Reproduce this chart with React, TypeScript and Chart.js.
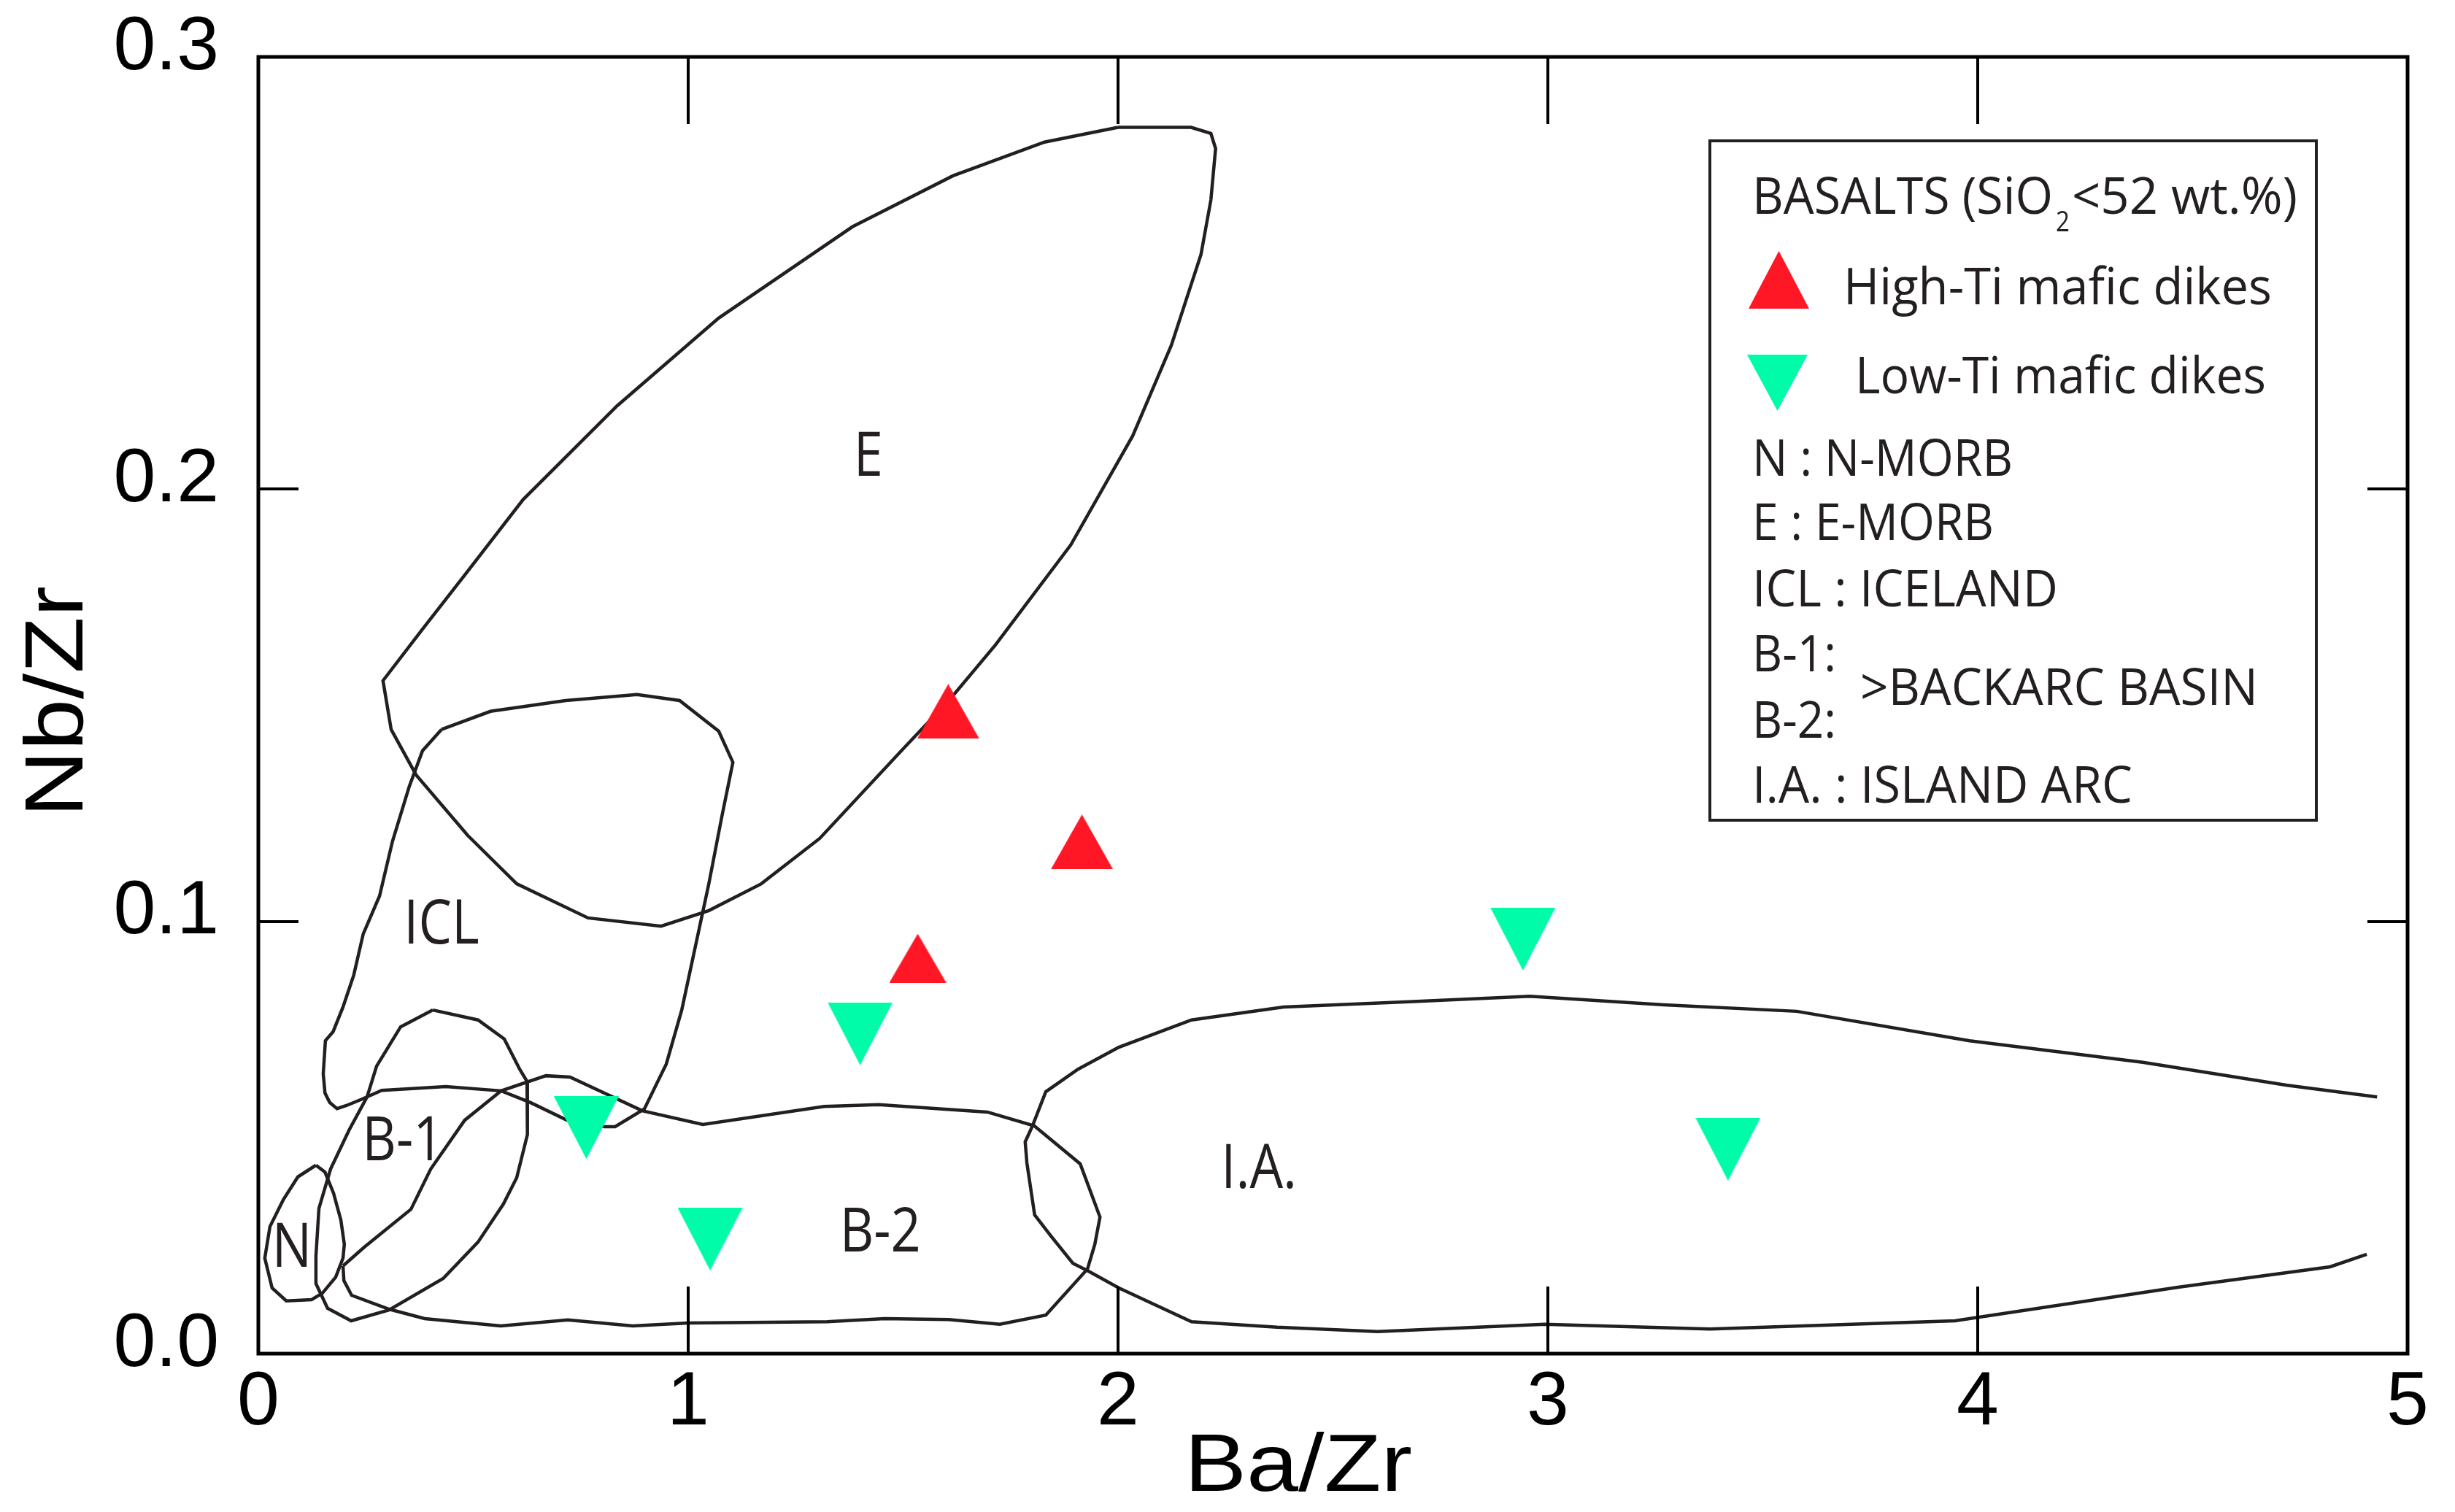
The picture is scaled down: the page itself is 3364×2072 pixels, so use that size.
import React, { useEffect, useRef } from 'react';
import { Chart, registerables } from 'chart.js';

Chart.register(...registerables);

// ---------- data ----------
const xTickValues = [0, 1, 2, 3, 4, 5];
const yTickValues = [0, 0.1, 0.2, 0.3];
const xAxisTitle = 'Ba/Zr';
const yAxisTitle = 'Nb/Zr';

const highTiX = [1.605, 1.916, 1.534];
const highTiY = [0.1486, 0.1184, 0.0915];
const lowTiX = [2.942, 1.4, 0.763, 1.051, 3.419];
const lowTiY = [0.0959, 0.074, 0.0523, 0.0265, 0.0473];

const fieldE = [[2.0,0.2837],[2.17,0.2837],[2.216,0.2823],[2.227,0.2788],[2.216,0.2669],[2.193,0.2543],[2.124,0.2333],[2.034,0.2123],[1.89,0.1871],[1.715,0.164],[1.609,0.1514],[1.496,0.1395],[1.306,0.1192],[1.17,0.1087],[1.048,0.1025],[0.937,0.0989],[0.767,0.1008],[0.601,0.1087],[0.487,0.1199],[0.367,0.1339],[0.309,0.1444],[0.29,0.1557],[0.381,0.1675],[0.48,0.1801],[0.616,0.1976],[0.835,0.2193],[1.071,0.2396],[1.382,0.2607],[1.616,0.2725],[1.829,0.2803],[2.0,0.2837]];
const fieldICL = [[0.426,0.1444],[0.54,0.1486],[0.715,0.1511],[0.881,0.1525],[0.98,0.1511],[1.071,0.144],[1.104,0.1368],[1.078,0.1241],[1.048,0.1087],[1.012,0.092],[0.985,0.0795],[0.949,0.067],[0.898,0.0566],[0.83,0.0525],[0.805,0.0525],[0.718,0.054],[0.633,0.0581],[0.565,0.0608],[0.436,0.0618],[0.287,0.0609],[0.239,0.0588],[0.205,0.0574],[0.183,0.0567],[0.166,0.0581],[0.155,0.0603],[0.151,0.0647],[0.156,0.0724],[0.174,0.0745],[0.197,0.0802],[0.222,0.0876],[0.244,0.0971],[0.282,0.1059],[0.312,0.1185],[0.351,0.1312],[0.382,0.1395],[0.426,0.1444]];
const fieldB1 = [[0.406,0.0795],[0.511,0.0772],[0.572,0.0728],[0.608,0.0658],[0.625,0.063],[0.626,0.0571],[0.626,0.0507],[0.601,0.0407],[0.57,0.0346],[0.511,0.0258],[0.43,0.0174],[0.304,0.0101],[0.216,0.0076],[0.161,0.0105],[0.134,0.0162],[0.134,0.0226],[0.141,0.0336],[0.168,0.0427],[0.211,0.0517],[0.253,0.0594],[0.275,0.0665],[0.331,0.0756],[0.406,0.0795]];
const fieldN = [[0.134,0.0436],[0.092,0.0409],[0.058,0.0356],[0.027,0.0294],[0.015,0.0221],[0.032,0.0152],[0.065,0.0122],[0.124,0.0125],[0.149,0.014],[0.18,0.0177],[0.197,0.0221],[0.2,0.0253],[0.192,0.0309],[0.175,0.0371],[0.155,0.042],[0.134,0.0436]];
const fieldB2 = [[0.197,0.0203],[0.199,0.0169],[0.217,0.0135],[0.304,0.0103],[0.387,0.0081],[0.564,0.0064],[0.72,0.0078],[0.871,0.0064],[1.0,0.0071],[1.323,0.0074],[1.457,0.0081],[1.606,0.0079],[1.725,0.0068],[1.832,0.0089],[1.929,0.0196],[1.946,0.0253],[1.958,0.0316],[1.912,0.0439],[1.805,0.0527],[1.696,0.0559],[1.443,0.0576],[1.316,0.0572],[1.034,0.053],[0.893,0.0562],[0.725,0.064],[0.669,0.0643],[0.565,0.0608],[0.48,0.054],[0.401,0.0427],[0.355,0.0334],[0.246,0.0246],[0.197,0.0203]];
const fieldIA = [[4.929,0.0594],[4.72,0.0621],[4.384,0.0674],[3.981,0.0724],[3.579,0.0792],[3.27,0.0807],[2.958,0.0827],[2.677,0.0814],[2.385,0.0802],[2.171,0.0772],[2.002,0.0709],[1.907,0.0658],[1.832,0.0606],[1.801,0.0527],[1.784,0.049],[1.788,0.0441],[1.806,0.0321],[1.844,0.0272],[1.895,0.0209],[1.929,0.0192],[2.002,0.0152],[2.171,0.0074],[2.37,0.0061],[2.604,0.0051],[2.992,0.0068],[3.377,0.0057],[3.947,0.0076],[4.469,0.0154],[4.82,0.0201],[4.905,0.023]];

const regionNames = ['E', 'ICL', 'B-1', 'N', 'B-2', 'I.A.'];
const regionX = [1.419, 0.426, 0.336, 0.078, 1.447, 2.328];
const regionY = [0.2082, 0.0999, 0.0498, 0.0252, 0.0287, 0.0434];

const legendTitleA = 'BASALTS (SiO';
const legendTitleSub = '2';
const legendTitleB = '<52 wt.%)';
const seriesNames = ['High-Ti mafic dikes', 'Low-Ti mafic dikes'];
const legendNotes = ['N : N-MORB', 'E : E-MORB', 'ICL : ICELAND', 'B-1:', 'B-2:', '>BACKARC BASIN', 'I.A. : ISLAND ARC'];

// ---------- styling ----------
const RED = '#FF1726';
const GREEN = '#00FCA9';
const INK = '#231F20';
const AXIS_FONT = '"Liberation Sans", Arial, Helvetica, sans-serif';
const TEXT_FONT = '"Open Sans", "Noto Sans", sans-serif';

function triangleCanvas(w: number, h: number, color: string, down: boolean) {
  const c = document.createElement('canvas');
  c.width = w;
  c.height = h;
  const ctx = c.getContext('2d')!;
  ctx.fillStyle = color;
  ctx.beginPath();
  if (down) {
    ctx.moveTo(0, 0); ctx.lineTo(w, 0); ctx.lineTo(w / 2, h);
  } else {
    ctx.moveTo(w / 2, 0); ctx.lineTo(w, h); ctx.lineTo(0, h);
  }
  ctx.closePath();
  ctx.fill();
  return c;
}

function drawFit(ctx: CanvasRenderingContext2D, text: string, x: number, y: number, width: number, font: string) {
  ctx.font = font;
  const m = ctx.measureText(text).width;
  ctx.save();
  ctx.translate(x, y);
  ctx.scale(width / m, 1);
  ctx.textAlign = 'left';
  ctx.textBaseline = 'alphabetic';
  ctx.fillText(text, 0, 0);
  ctx.restore();
}

const decorPlugin = {
  id: 'decor',
  afterDatasetsDraw(chart: any) {
    const ctx: CanvasRenderingContext2D = chart.ctx;
    const xs = chart.scales.x;
    const ys = chart.scales.y;
    ctx.save();
    ctx.fillStyle = INK;
    const fs = 84;
    ctx.font = `${fs}px ${TEXT_FONT}`;
    regionNames.forEach((name, i) => {
      const px = xs.getPixelForValue(regionX[i]);
      const py = ys.getPixelForValue(regionY[i]);
      const w = ctx.measureText(name).width * 0.86;
      ctx.save();
      ctx.translate(px - w / 2, py + fs * 0.714 / 2);
      ctx.scale(0.86, 1);
      ctx.textBaseline = 'alphabetic';
      ctx.fillText(name, 0, 0);
      ctx.restore();
    });
    ctx.restore();
  },
  afterDraw(chart: any) {
    const ctx: CanvasRenderingContext2D = chart.ctx;
    const a = chart.chartArea;
    const xs = chart.scales.x;
    const ys = chart.scales.y;
    ctx.save();
    ctx.strokeStyle = '#000';
    ctx.lineWidth = 5;
    ctx.strokeRect(a.left, a.top, a.right - a.left, a.bottom - a.top);
    ctx.lineWidth = 4;
    ctx.beginPath();
    xTickValues.slice(1, -1).forEach((v) => {
      const px = Math.round(xs.getPixelForValue(v));
      ctx.moveTo(px, a.bottom); ctx.lineTo(px, a.bottom - 92);
      ctx.moveTo(px, a.top); ctx.lineTo(px, a.top + 92);
    });
    yTickValues.slice(1, -1).forEach((v) => {
      const py = Math.round(ys.getPixelForValue(v));
      ctx.moveTo(a.left, py); ctx.lineTo(a.left + 55, py);
      ctx.moveTo(a.right, py); ctx.lineTo(a.right - 55, py);
    });
    ctx.stroke();

    ctx.fillStyle = '#000';
    drawFit(ctx, xAxisTitle, 1623, 2043, 312, `112px ${AXIS_FONT}`);
    ctx.save();
    ctx.translate(113, 1120);
    ctx.rotate(-Math.PI / 2);
    drawFit(ctx, yAxisTitle, 0, 0, 317, `113px ${AXIS_FONT}`);
    ctx.restore();

    const L = 2343, T = 193, W = 831, H = 931;
    ctx.fillStyle = '#fff';
    ctx.fillRect(L, T, W, H);
    ctx.strokeStyle = INK;
    ctx.lineWidth = 4;
    ctx.strokeRect(L, T, W, H);
    ctx.fillStyle = INK;
    const f = `70px ${TEXT_FONT}`;
    drawFit(ctx, legendTitleA, L + 58, T + 100, 412, f);
    drawFit(ctx, legendTitleSub, L + 474, T + 124, 19, `38px ${TEXT_FONT}`);
    drawFit(ctx, legendTitleB, L + 496, T + 100, 309, f);
    ctx.fillStyle = RED;
    ctx.beginPath();
    ctx.moveTo(L + 94.5, T + 151); ctx.lineTo(L + 136, T + 230); ctx.lineTo(L + 53, T + 230);
    ctx.closePath(); ctx.fill();
    ctx.fillStyle = GREEN;
    ctx.beginPath();
    ctx.moveTo(L + 51, T + 293); ctx.lineTo(L + 134, T + 293); ctx.lineTo(L + 92.5, T + 370);
    ctx.closePath(); ctx.fill();
    ctx.fillStyle = INK;
    drawFit(ctx, seriesNames[0], L + 183, T + 224, 587, f);
    drawFit(ctx, seriesNames[1], L + 199, T + 346, 563, f);
    const noteX = [58, 58, 58, 58, 58, 206, 58];
    const noteY = [459, 547, 638, 727, 818, 773, 907];
    const noteW = [357, 331, 419, 115, 115, 545, 521];
    legendNotes.forEach((t, i) => drawFit(ctx, t, L + noteX[i], T + noteY[i], noteW[i], f));
    ctx.restore();
  },
};

function poly(pts: number[][]) {
  return pts.map(([x, y]) => ({ x, y }));
}

export default function App() {
  const ref = useRef<HTMLCanvasElement | null>(null);
  useEffect(() => {
    if (!ref.current) return;
    const redBig = triangleCanvas(85, 75, RED, false);
    const redSmall = triangleCanvas(78, 67, RED, false);
    const green = triangleCanvas(89, 86, GREEN, true);
    const lineDs = (label: string, pts: number[][]) => ({
      label,
      data: poly(pts),
      showLine: true,
      borderColor: INK,
      borderWidth: 4.5,
      pointRadius: 0,
      pointHoverRadius: 0,
      fill: false,
      tension: 0,
    });
    const chart = new Chart(ref.current, {
      type: 'scatter',
      data: {
        datasets: [
          {
            label: seriesNames[0],
            data: highTiX.map((x, i) => ({ x, y: highTiY[i] })),
            pointStyle: [redBig, redBig, redSmall] as any,
            pointRadius: 40,
            backgroundColor: RED,
            borderColor: RED,
          },
          {
            label: seriesNames[1],
            data: lowTiX.map((x, i) => ({ x, y: lowTiY[i] })),
            pointStyle: green as any,
            pointRadius: 40,
            backgroundColor: GREEN,
            borderColor: GREEN,
          },
          lineDs('E', fieldE),
          lineDs('ICL', fieldICL),
          lineDs('B-1', fieldB1),
          lineDs('N', fieldN),
          lineDs('B-2', fieldB2),
          lineDs('I.A.', fieldIA),
        ] as any,
      },
      options: {
        animation: false,
        responsive: true,
        maintainAspectRatio: false,
        devicePixelRatio: 1,
        layout: { padding: { top: 78, right: 65, left: 0, bottom: 0 } },
        plugins: { legend: { display: false }, tooltip: { enabled: false } },
        events: [],
        scales: {
          x: {
            type: 'linear',
            min: 0,
            max: 5,
            afterBuildTicks: (s: any) => { s.ticks = xTickValues.map((v) => ({ value: v })); },
            afterFit: (s: any) => { s.height = 217; s.paddingLeft = 0; s.paddingRight = 0; },
            grid: { display: false, drawTicks: false },
            border: { display: false },
            ticks: {
              autoSkip: false,
              maxRotation: 0,
              padding: 6,
              color: '#000',
              font: { family: AXIS_FONT, size: 104 },
              callback: (v: any) => String(v),
            },
          },
          y: {
            type: 'linear',
            min: 0,
            max: 0.3,
            afterBuildTicks: (s: any) => { s.ticks = yTickValues.map((v) => ({ value: v })); },
            afterFit: (s: any) => { s.width = 354; s.paddingTop = 0; s.paddingBottom = 0; },
            grid: { display: false, drawTicks: false },
            border: { display: false },
            ticks: {
              autoSkip: false,
              padding: 54,
              labelOffset: -12,
              color: '#000',
              font: { family: AXIS_FONT, size: 104 },
              callback: (v: any) => Number(v).toFixed(1),
            },
          },
        },
      } as any,
      plugins: [decorPlugin],
    });
    return () => chart.destroy();
  }, []);
  return (
    <div style={{ position: 'fixed', left: 0, top: 0, width: 3364, height: 2072, background: '#fff' }}>
      <canvas ref={ref} style={{ display: 'block' }} />
    </div>
  );
}
